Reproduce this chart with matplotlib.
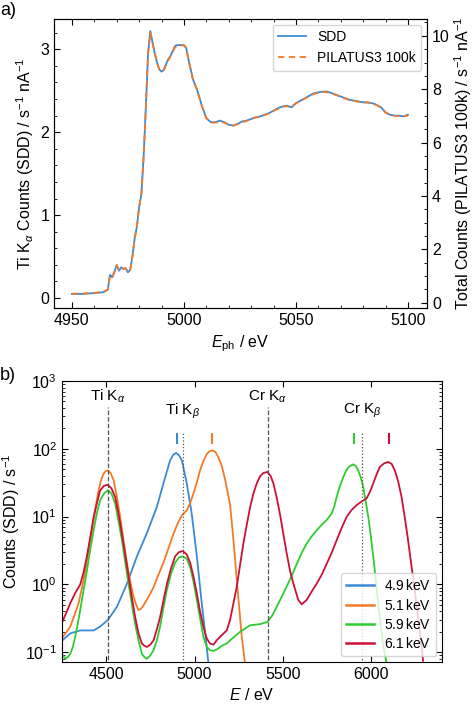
import matplotlib.pyplot as plt

plt.rcParams['font.family'] = ['Liberation Sans', 'DejaVu Sans']
plt.rcParams['mathtext.fontset'] = 'custom'
plt.rcParams['mathtext.rm'] = 'Liberation Sans'
plt.rcParams['mathtext.it'] = 'Liberation Sans:italic'
plt.rcParams['font.size'] = 11.5

# ---- panel a: XANES at Ti K edge ----
e_ph = [4950, 4955, 4960, 4964, 4966, 4967, 4968, 4969, 4970, 4971, 4972, 4973, 4974, 4975, 4976,
        4977, 4978, 4979, 4980, 4981, 4982, 4983, 4984, 4985, 4986, 4987, 4988, 4989, 4990, 4991,
        4992, 4993, 4994, 4995, 4996, 4997, 4998, 5000, 5001, 5002, 5004, 5006, 5008, 5010, 5012,
        5014, 5016, 5018, 5020, 5022, 5024, 5026, 5028, 5030, 5032, 5034, 5036, 5038, 5040, 5042,
        5044, 5046, 5048, 5050, 5052, 5054, 5056, 5058, 5060, 5062, 5064, 5066, 5068, 5070, 5072,
        5074, 5076, 5078, 5080, 5082, 5084, 5086, 5088, 5090, 5092, 5094, 5096, 5098, 5100]
sdd = [0.05, 0.05, 0.06, 0.07, 0.10, 0.28, 0.25, 0.32, 0.40, 0.33, 0.37, 0.35, 0.36, 0.31, 0.34,
       0.50, 0.72, 0.86, 1.10, 1.25, 1.70, 2.30, 2.95, 3.22, 3.08, 2.95, 2.84, 2.76, 2.73, 2.75,
       2.82, 2.88, 2.92, 2.98, 3.04, 3.05, 3.05, 3.05, 3.02, 2.88, 2.64, 2.50, 2.32, 2.17, 2.12,
       2.12, 2.14, 2.12, 2.09, 2.08, 2.10, 2.13, 2.14, 2.16, 2.18, 2.19, 2.21, 2.23, 2.26, 2.29,
       2.31, 2.32, 2.30, 2.35, 2.38, 2.41, 2.44, 2.47, 2.48, 2.49, 2.49, 2.47, 2.45, 2.43, 2.41,
       2.39, 2.38, 2.37, 2.36, 2.36, 2.35, 2.33, 2.30, 2.24, 2.21, 2.20, 2.20, 2.19, 2.21]
pilatus = [0.34, 0.34, 0.37, 0.40, 0.49, 1.02, 0.96, 1.15, 1.40, 1.22, 1.31, 1.27, 1.29, 1.15, 1.22,
           1.73, 2.41, 2.85, 3.59, 4.06, 5.45, 7.31, 9.33, 10.12, 9.73, 9.33, 8.98, 8.74, 8.66, 8.71,
           8.90, 9.08, 9.23, 9.40, 9.57, 9.62, 9.64, 9.64, 9.54, 9.11, 8.36, 7.93, 7.37, 6.91, 6.75,
           6.75, 6.76, 6.75, 6.66, 6.63, 6.69, 6.76, 6.81, 6.88, 6.94, 6.97, 7.03, 7.09, 7.19, 7.26,
           7.34, 7.36, 7.34, 7.47, 7.56, 7.65, 7.74, 7.82, 7.87, 7.90, 7.88, 7.84, 7.78, 7.71, 7.65,
           7.59, 7.56, 7.53, 7.50, 7.50, 7.47, 7.40, 7.31, 7.12, 7.03, 7.00, 6.99, 7.00, 7.00]

# ---- panel b: SDD fluorescence spectra ----
E_blue = [4240, 4270, 4297, 4325, 4353, 4390, 4429, 4466, 4510, 4561, 4617, 4674, 4730, 4787,
          4824, 4862, 4880, 4896, 4912, 4928, 4956, 4984, 5013, 5041, 5069, 5078]
c_blue = [0.14, 0.165, 0.19, 0.20, 0.21, 0.21, 0.21, 0.24, 0.30, 0.47, 1.02, 2.6, 5.7, 14,
          31, 68, 82, 87, 80, 68, 31, 11, 2.6, 0.52, 0.12, 0.07]

E_orange = [4240, 4270, 4297, 4320, 4344, 4365, 4382, 4400, 4419, 4438, 4457, 4472, 4485, 4498,
            4510, 4525, 4542, 4560, 4579, 4598, 4617, 4636, 4655, 4670, 4683, 4697, 4711, 4740,
            4768, 4796, 4824, 4852, 4881, 4905, 4928, 4956, 4975, 4994, 5013, 5031, 5050, 5069,
            5085, 5101, 5118, 5135, 5155, 5173, 5201, 5220, 5239, 5267, 5285]
c_orange = [0.15, 0.19, 0.24, 0.35, 0.53, 0.95, 1.6, 3.2, 6.3, 13, 24.5, 35, 43, 47,
            48, 44, 34.5, 20, 10, 4.5, 2.1, 1.1, 0.66, 0.50, 0.42, 0.44, 0.49, 0.66,
            0.91, 1.4, 2.1, 3.4, 5.6, 8.0, 10.4, 12.4, 16, 22, 32, 48, 66, 84,
            92, 95, 90, 75, 55, 35, 15, 4.5, 1.15, 0.17, 0.07]

E_green = [4240, 4255, 4269, 4283, 4297, 4311, 4325, 4340, 4353, 4372, 4391, 4410, 4429, 4448,
           4466, 4488, 4510, 4530, 4551, 4570, 4589, 4608, 4627, 4645, 4664, 4683, 4702, 4716,
           4730, 4750, 4768, 4787, 4805, 4824, 4843, 4866, 4890, 4912, 4933, 4955, 4975, 4994,
           5013, 5031, 5050, 5069, 5088, 5107, 5125, 5155, 5182, 5201, 5257, 5314, 5370, 5412,
           5440, 5465, 5493, 5521, 5550, 5578, 5606, 5634, 5662, 5691, 5720, 5747, 5775, 5790,
           5804, 5822, 5841, 5858, 5875, 5898, 5912, 5926, 5940, 5954, 5968, 5983, 5997, 6011,
           6025, 6039, 6053, 6067, 6086]
c_green = [0.10, 0.09, 0.08, 0.085, 0.095, 0.12, 0.17, 0.27, 0.42, 0.82, 1.6, 3.3, 6.3, 11.5,
           17.5, 22, 24.5, 22, 15.6, 8.5, 4.5, 2.1, 1.0, 0.52, 0.26, 0.15, 0.095, 0.085,
           0.08, 0.09, 0.108, 0.15, 0.24, 0.45, 0.83, 1.4, 2.1, 2.5, 2.6, 2.4, 1.8, 1.1,
           0.59, 0.32, 0.17, 0.12, 0.107, 0.105, 0.11, 0.125, 0.135, 0.15, 0.20, 0.25, 0.26, 0.28,
           0.35, 0.47, 0.66, 0.93, 1.35, 2.0, 2.9, 4.0, 5.1, 6.3, 7.6, 8.9, 11, 14,
           19.6, 28, 38, 48, 55, 59, 56, 48, 38, 27.5, 17, 9.9, 5.2, 2.6,
           1.2, 0.52, 0.26, 0.13, 0.07]

E_red = [4240, 4270, 4297, 4325, 4353, 4372, 4391, 4410, 4429, 4448, 4466, 4488, 4510, 4530,
         4551, 4570, 4589, 4608, 4627, 4645, 4664, 4683, 4702, 4716, 4730, 4750, 4768, 4787,
         4805, 4824, 4843, 4866, 4890, 4912, 4933, 4955, 4975, 4994, 5013, 5031, 5050, 5069,
         5088, 5107, 5125, 5155, 5182, 5201, 5220, 5239, 5257, 5276, 5295, 5314, 5333, 5352,
         5370, 5389, 5412, 5430, 5446, 5465, 5483, 5502, 5521, 5540, 5559, 5587, 5606, 5634,
         5662, 5691, 5720, 5747, 5775, 5804, 5832, 5860, 5888, 5917, 5945, 5973, 5992, 6011,
         6030, 6048, 6072, 6095, 6115, 6133, 6152, 6171, 6190, 6208, 6227, 6246, 6260, 6274,
         6293]
c_red = [0.24, 0.36, 0.53, 0.75, 1.0, 1.5, 2.6, 5.0, 9.8, 16, 24.5, 28.5, 29.5, 26,
         19.5, 11, 5.6, 2.7, 1.3, 0.65, 0.33, 0.19, 0.134, 0.125, 0.12, 0.13, 0.15, 0.22,
         0.33, 0.58, 1.0, 1.7, 2.6, 3.0, 3.1, 2.8, 2.1, 1.3, 0.74, 0.40, 0.24, 0.16,
         0.134, 0.13, 0.15, 0.18, 0.21, 0.30, 0.53, 0.93, 1.9, 4.0, 7.5, 13.7, 22, 31,
         39, 44, 45.6, 40, 31, 19, 11, 5.6, 2.9, 1.6, 1.03, 0.59, 0.51, 0.59,
         0.78, 1.03, 1.4, 2.0, 2.9, 4.5, 6.8, 9.9, 12.5, 14.8, 16.7, 18.6, 23, 31,
         42, 54, 61, 64, 60, 48, 33, 19.6, 9.5, 4.5, 1.9, 0.83, 0.40, 0.21,
         0.075]

exc_energy = [4900, 5100, 5900, 6100]
exc_labels = ['4.9$\\,$keV', '5.1$\\,$keV', '5.9$\\,$keV', '6.1$\\,$keV']
exc_colors = ['#3a8ad4', '#f47a28', '#2ecc2e', '#cc1036']

line_E = [4510, 4932, 5415, 5947]
line_names = ['Ti K$_\\alpha$', 'Ti K$_\\beta$', 'Cr K$_\\alpha$', 'Cr K$_\\beta$']
line_styles = ['--', ':', '--', ':']

fig = plt.figure(figsize=(4.74, 7.04), dpi=100)

# panel a
ax = fig.add_axes([0.1139, 0.5625, 0.787, 0.4105])
ax.plot(e_ph, sdd, color='#3a8ad4', lw=1.3, label='SDD')
ax.set_xlim(4942, 5108.5)
ax.set_ylim(-0.12, 3.365)
ax.set_xticks([4950, 5000, 5050, 5100])
ax.set_yticks([0, 1, 2, 3])
ax.minorticks_on()
ax.tick_params(which='both', direction='in', top=True)
ax.tick_params(which='major', length=4)
ax.tick_params(which='minor', length=2)
ax.set_xlabel('$E_\\mathrm{ph}$ / eV')
ax.set_ylabel('Ti K$_\\alpha$ Counts (SDD) / s$^{-1}$ nA$^{-1}$', labelpad=3)

ax2 = ax.twinx()
ax2.plot(e_ph, pilatus, color='#f47a28', lw=1.3, ls=(0, (3.5, 2.5)), label='PILATUS3 100k')
ax2.set_ylim(-0.2, 10.63)
ax2.set_yticks([0, 2, 4, 6, 8, 10])
ax2.minorticks_on()
ax2.tick_params(which='both', direction='in')
ax2.tick_params(which='major', length=4)
ax2.tick_params(which='minor', length=2)
ax2.set_ylabel('Total Counts (PILATUS3 100k) / s$^{-1}$ nA$^{-1}$', labelpad=2)

h1, l1 = ax.get_legend_handles_labels()
h2, l2 = ax2.get_legend_handles_labels()
ax2.legend(h1 + h2, l1 + l2, loc='upper right', fontsize=10, handlelength=2.0,
           borderaxespad=0.4)

fig.text(0.0, 0.985, 'a)', fontsize=13, va='center', ha='left')

# panel b
bx = fig.add_axes([0.1308, 0.0597, 0.8017, 0.3991])
for E, c, col, lab in zip([E_blue, E_orange, E_green, E_red],
                          [c_blue, c_orange, c_green, c_red], exc_colors, exc_labels):
    bx.plot(E, c, color=col, lw=1.3, label=lab)
for e0, col in zip(exc_energy, exc_colors):
    bx.vlines(e0, 118, 172, color=col, lw=1.5)
for e0, name, ls in zip(line_E, line_names, line_styles):
    top = 410 if ls == '--' else 175
    ty = 590 if ls == '--' else 357
    bx.vlines(e0, 0.05, top, color='#555555', lw=0.9, linestyles=ls)
    bx.text(e0, ty, name, ha='center', va='center', fontsize=11)
bx.set_yscale('log')
bx.set_xlim(4250, 6400)
bx.set_ylim(0.072, 1000)
bx.set_xticks([4500, 5000, 5500, 6000])
bx.tick_params(which='both', direction='in', top=True, right=True)
bx.tick_params(which='major', length=4)
bx.tick_params(which='minor', length=2)
bx.set_xlabel('$E$ / eV')
bx.set_ylabel('Counts (SDD) / s$^{-1}$', labelpad=2)
leg = bx.legend(loc='lower right', fontsize=10, handlelength=2.0, labelspacing=0.3,
                borderaxespad=0.4, handletextpad=0.7)
for h in leg.get_lines():
    h.set_linewidth(1.8)

fig.text(0.0, 0.467, 'b)', fontsize=13, va='center', ha='left')

fig.savefig('out.png', dpi=100)
